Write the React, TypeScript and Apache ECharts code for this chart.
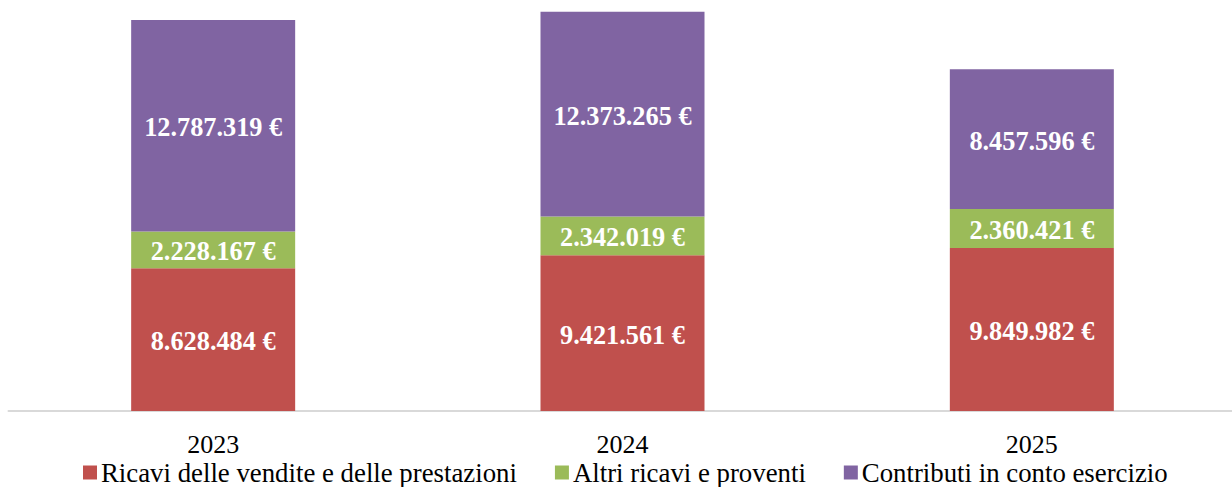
import React, { useEffect, useRef } from "react";
import * as echarts from "echarts";

const categories = ["2023", "2024", "2025"];
const seriesNames = [
  "Ricavi delle vendite e delle prestazioni",
  "Altri ricavi e proventi",
  "Contributi in conto esercizio",
];
const ricavi = [8628484, 9421561, 9849982];
const altri = [2228167, 2342019, 2360421];
const contributi = [12787319, 12373265, 8457596];
const colors = ["#C0504D", "#9BBB59", "#8064A2"];

const fmt = (v: number) =>
  String(Math.round(v)).replace(/\B(?=(\d{3})+(?!\d))/g, ".") + " €";

export default function App() {
  const ref = useRef<HTMLDivElement>(null);
  useEffect(() => {
    document.body.style.margin = "0";
    document.body.style.overflow = "hidden";
    const chart = echarts.init(ref.current!, null, { renderer: "svg" });
    const font = "'Liberation Serif', 'Times New Roman', serif";
    const mk = (name: string, data: number[], color: string) => ({
      name,
      type: "bar",
      stack: "total",
      data,
      barWidth: 164,
      itemStyle: { color },
      label: {
        show: true,
        position: "inside",
        offset: [0, 2],
        color: "#ffffff",
        fontFamily: font,
        fontWeight: "bold",
        fontSize: 26.3,
        formatter: (p: any) => fmt(p.value),
      },
    });
    chart.setOption({
      animation: false,
      textStyle: { fontFamily: font },
      grid: { left: 8.5, width: 1228, top: 0, bottom: 76, containLabel: false },
      legend: {
        data: seriesNames,
        left: 83,
        top: 459,
        padding: 0,
        itemWidth: 14,
        itemHeight: 14,
        itemGap: 38,
        icon: "rect",
        textStyle: { fontFamily: font, fontSize: 26.8, color: "#000", padding: [0, 0, 0, -1] },
      },
      xAxis: {
        type: "category",
        data: categories,
        axisTick: { show: false },
        axisLine: { lineStyle: { color: "#D9D9D9", width: 2 } },
        axisLabel: { color: "#000", fontFamily: font, fontSize: 26, margin: 20 },
      },
      yAxis: {
        type: "value",
        min: 0,
        max: 24850000,
        show: false,
        splitLine: { show: false },
      },
      series: [
        mk(seriesNames[0], ricavi, colors[0]),
        mk(seriesNames[1], altri, colors[1]),
        mk(seriesNames[2], contributi, colors[2]),
      ],
    });
    return () => chart.dispose();
  }, []);
  return <div ref={ref} style={{ width: 1240, height: 487 }} />;
}
